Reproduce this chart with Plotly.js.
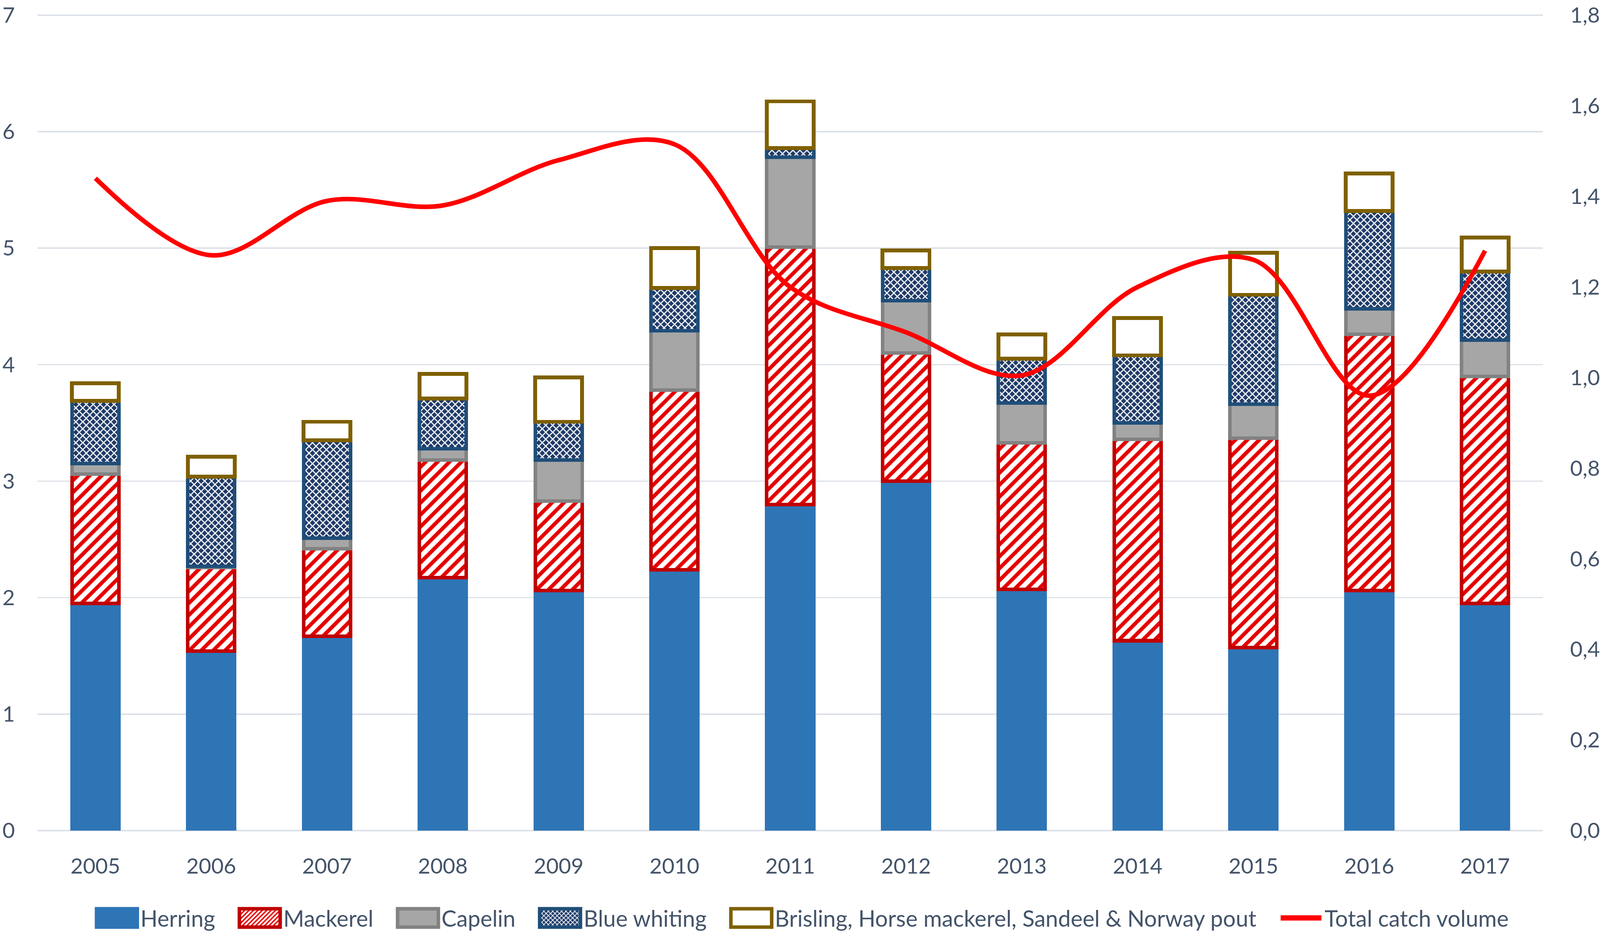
<!DOCTYPE html>
<html>
<head>
<meta charset="utf-8">
<script src="https://cdn.plot.ly/plotly-3.0.1.min.js"></script>
<style>
  html, body { margin: 0; padding: 0; background: #ffffff; overflow: hidden; }
</style>
</head>
<body>
<div id="chart"></div>
<script>
// ---- Data ----
const years = ['2005','2006','2007','2008','2009','2010','2011','2012','2013','2014','2015','2016','2017'];
const herring     = [1.95, 1.54, 1.67, 2.17, 2.06, 2.24, 2.80, 3.00, 2.07, 1.63, 1.57, 2.06, 1.95];
const mackerel    = [1.11, 0.72, 0.75, 1.01, 0.77, 1.54, 2.21, 1.10, 1.26, 1.73, 1.80, 2.20, 1.95];
const capelin     = [0.09, 0.01, 0.09, 0.10, 0.35, 0.51, 0.77, 0.45, 0.34, 0.14, 0.29, 0.22, 0.31];
const blueWhiting = [0.54, 0.77, 0.84, 0.43, 0.33, 0.37, 0.08, 0.28, 0.38, 0.58, 0.94, 0.84, 0.59];
const brisling    = [0.15, 0.17, 0.16, 0.21, 0.38, 0.34, 0.40, 0.15, 0.21, 0.32, 0.36, 0.32, 0.29];
const totalCatch  = [1.44, 1.27, 1.39, 1.38, 1.48, 1.515, 1.20, 1.10, 1.005, 1.20, 1.26, 0.96, 1.28];
const seriesNames = ['Herring', 'Mackerel', 'Capelin', 'Blue whiting',
  'Brisling, Horse mackerel, Sandeel & Norway pout', 'Total catch volume'];
const leftTicks  = [0, 1, 2, 3, 4, 5, 6, 7];
const rightTicks = [0, 0.2, 0.4, 0.6, 0.8, 1.0, 1.2, 1.4, 1.6, 1.8];
const leftMax = 7, rightMax = 1.8;

// ---- Fit the design (4550 x 2406) into the real viewport ----
const W = window.innerWidth || 4550;
const H = window.innerHeight || 2406;
const sx = W / 4550, sy = H / 2406, s = Math.min(sx, sy);
const chartDiv = document.getElementById('chart');
chartDiv.style.width = W + 'px';
chartDiv.style.height = H + 'px';

const FONT = 'Lato, "Open Sans", sans-serif';
const TXT = '#44546A';
const FS = 61 * s;      // axis tick labels
const FSL = 64 * s;     // legend
const OUTLINE = 10 * s;
// tiny headroom so the top gridline (7) is not dropped at the plot edge
const HEAD = 1.0009;

const data = [
  {
    type: 'bar', name: seriesNames[0], x: years, y: herring,
    marker: { color: '#2E75B6', line: { color: '#2E75B6', width: OUTLINE } }
  },
  {
    type: 'bar', name: seriesNames[1], x: years, y: mackerel,
    marker: {
      color: '#FFFFFF',
      line: { color: '#C00000', width: OUTLINE },
      pattern: { shape: '/', fgcolor: '#E60000', bgcolor: '#FFFFFF', size: 24 * s, solidity: 0.45 }
    }
  },
  {
    type: 'bar', name: seriesNames[2], x: years, y: capelin,
    marker: { color: '#A6A6A6', line: { color: '#828282', width: OUTLINE } }
  },
  {
    type: 'bar', name: seriesNames[3], x: years, y: blueWhiting,
    marker: {
      color: '#1F3A68',
      line: { color: '#1F4E79', width: OUTLINE },
      pattern: { shape: 'x', fgcolor: '#FFFFFF', bgcolor: '#1F3A68', size: 14 * s, solidity: 0.38 }
    }
  },
  {
    type: 'bar', name: seriesNames[4], x: years, y: brisling,
    marker: { color: '#FFFFFF', line: { color: '#7F6000', width: 11 * s } }
  },
  {
    type: 'scatter', mode: 'lines', name: seriesNames[5], x: years, y: totalCatch,
    yaxis: 'y2',
    line: { color: '#FF0000', width: 13 * s, shape: 'spline', smoothing: 1 }
  }
];

const layout = {
  width: W, height: H,
  paper_bgcolor: '#FFFFFF', plot_bgcolor: '#FFFFFF',
  margin: { l: 107 * sx, r: 162 * sx, t: 37 * sy, b: 275 * sy, pad: 0 },
  barmode: 'stack',
  bargap: 0.595,
  separators: ',.',
  font: { family: FONT, size: FS, color: TXT },
  showlegend: true,
  legend: {
    orientation: 'h', traceorder: 'normal',
    x: 0.5015, xanchor: 'center', y: -0.107, yanchor: 'middle',
    font: { family: FONT, size: FSL, color: TXT },
    itemwidth: 177 * s,
    bgcolor: 'rgba(0,0,0,0)'
  },
  xaxis: {
    type: 'category',
    showgrid: false, showline: false, zeroline: false,
    ticks: '', ticklabelstandoff: 54 * sy,
    tickfont: { family: FONT, size: FS, color: TXT }
  },
  yaxis: {
    range: [0, leftMax * HEAD], tickvals: leftTicks,
    showgrid: true, gridcolor: '#DDE2E9', gridwidth: 4 * s,
    zeroline: true, zerolinecolor: '#DDE2E9', zerolinewidth: 4 * s,
    showline: false,
    ticks: 'outside', ticklen: 51 * sx, tickcolor: 'rgba(0,0,0,0)',
    ticklabeloverflow: 'allow',
    tickfont: { family: FONT, size: FS, color: TXT }
  },
  yaxis2: {
    overlaying: 'y', side: 'right',
    range: [0, rightMax * HEAD], tickvals: rightTicks, tickformat: '.1f',
    showgrid: false, zeroline: false, showline: false,
    ticks: 'outside', ticklen: 64 * sx, tickcolor: 'rgba(0,0,0,0)',
    ticklabeloverflow: 'allow',
    tickfont: { family: FONT, size: FS, color: TXT }
  }
};

function num(str, re, dflt) {
  const m = (str || '').match(re);
  return m ? parseFloat(m[1]) : dflt;
}

Plotly.newPlot(chartDiv, data, layout, { staticPlot: true, displayModeBar: false }).then(function (gd) {
  try {
    const swW = 116 * s, swH = 52 * s, gapT = 9 * s, lineW = 116 * s;
    gd.querySelectorAll('.legend .traces').forEach(function (g) {
      const txt = g.querySelector('text.legendtext');
      if (!txt) return;
      const tx = parseFloat(txt.getAttribute('x')) || (177 * s + 10);
      const right = tx - gapT, left = right - swW;
      g.querySelectorAll('.legendpoints path').forEach(function (p) {
        const d = p.getAttribute('d') || '';
        if (d.indexOf('M6,6H-6V-6H6Z') === 0) {
          const c = num(p.getAttribute('transform'), /translate\(\s*([-\d.e]+)/, 0);
          p.setAttribute('d', 'M' + (right - c) + ',' + swH / 2 + 'H' + (left - c) +
            'V' + (-swH / 2) + 'H' + (right - c) + 'Z');
          p.style.strokeWidth = (10 * s) + 'px';
        }
      });
      g.querySelectorAll('.legendlines path').forEach(function (p) {
        const c = num(p.getAttribute('transform'), /translate\(\s*([-\d.e]+)/, 0);
        p.setAttribute('d', 'M' + (right - lineW - c) + ',0h' + lineW);
        p.style.strokeWidth = (15 * s) + 'px';
      });
    });
  } catch (e) {}
});
</script>
</body>
</html>
